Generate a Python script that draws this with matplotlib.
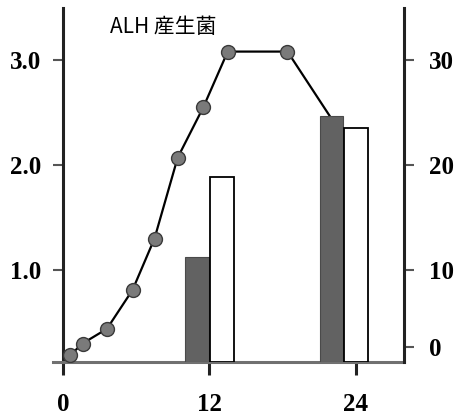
import matplotlib
matplotlib.use('Agg')
import matplotlib.pyplot as plt
import numpy as np

# Data
hours = [0.6, 1.6, 3.6, 5.7, 7.5, 9.4, 11.5, 13.5, 18.4, 21.9]
alh = [0.19, 0.30, 0.44, 0.81, 1.30, 2.07, 2.55, 3.08, 3.08, 2.46]   # left axis

bar_dark_x = [11.0, 22.0]
bar_dark = [11.2, 24.7]      # right axis
bar_white_x = [13.0, 24.0]
bar_white = [18.9, 23.5]     # right axis

x_ticks = [0, 12, 24]
left_ticks = [1.0, 2.0, 3.0]
right_ticks = [0, 10, 20, 30]
title = 'ALH 産生菌'

serif = {'family': 'Liberation Serif', 'weight': 'bold', 'size': 18}

fig = plt.figure(figsize=(4.59, 4.17), dpi=100)
ax = fig.add_axes([53 / 459, 55 / 417, 351 / 459, 354 / 417])
ax2 = ax.twinx()

# line with markers (last point is hidden behind the bar, no marker)
ax.plot(hours, alh, color='black', lw=1.6, marker='o', markersize=10,
        markerfacecolor='#7a7a7a', markeredgecolor='#3a3a3a', markeredgewidth=1.0,
        markevery=list(range(len(hours) - 1)), zorder=3)

ax.set_xlim(-0.82, 27.95)
ax.set_ylim(0.124, 3.495)

# right axis: the original drawing spaces 0-10 tighter than 10-30
knot_v = [-10, 0, 10, 40]
knot_t = [-62, 15, 92, 407]
ax2.set_yscale('function', functions=(lambda v: np.interp(v, knot_v, knot_t),
                                      lambda t: np.interp(t, knot_t, knot_v)))
ax2.set_ylim(-1.95, 34.95)
y2_lo = ax2.get_ylim()[0]

w = 1.95
ax2.bar(bar_dark_x, np.array(bar_dark) - y2_lo, w, bottom=y2_lo,
        color='#626262', edgecolor='#4a4a4a', linewidth=0.8, zorder=2)
ax2.bar(bar_white_x, np.array(bar_white) - y2_lo, w, bottom=y2_lo,
        color='white', edgecolor='black', linewidth=1.3, zorder=2)

# spines
for s in ['top', 'right']:
    ax.spines[s].set_visible(False)
ax.spines['left'].set_position(('data', 0))
ax.spines['left'].set_linewidth(2.2)
ax.spines['left'].set_color('#222222')
ax.spines['bottom'].set_linewidth(2.2)
ax.spines['bottom'].set_color('#707070')
for s in ['top', 'left', 'bottom']:
    ax2.spines[s].set_visible(False)
ax2.spines['right'].set_linewidth(2.2)
ax2.spines['right'].set_color('#222222')

ax.set_xticks(x_ticks)
ax.set_xticklabels([str(t) for t in x_ticks], fontdict=serif)
ax.tick_params(axis='x', direction='out', length=9, width=2.2, color='#222222', pad=13)

ax.set_yticks(left_ticks)
ax.set_yticklabels([f'{t:.1f}' for t in left_ticks], fontdict=serif)
ax.tick_params(axis='y', direction='out', length=7, width=1.5, color='#555555', pad=9)

ax2.set_yticks(right_ticks)
ax2.set_yticklabels([str(t) for t in right_ticks], fontdict=serif)
ax2.tick_params(axis='y', direction='out', length=7, width=1.5, color='#555555', pad=11)
ax2.minorticks_off()

ax.text(3.85, 3.31, title, fontsize=15, va='center', ha='left',
        family=['Noto Sans CJK JP', 'DejaVu Sans'])

fig.savefig('out.png', dpi=100)
